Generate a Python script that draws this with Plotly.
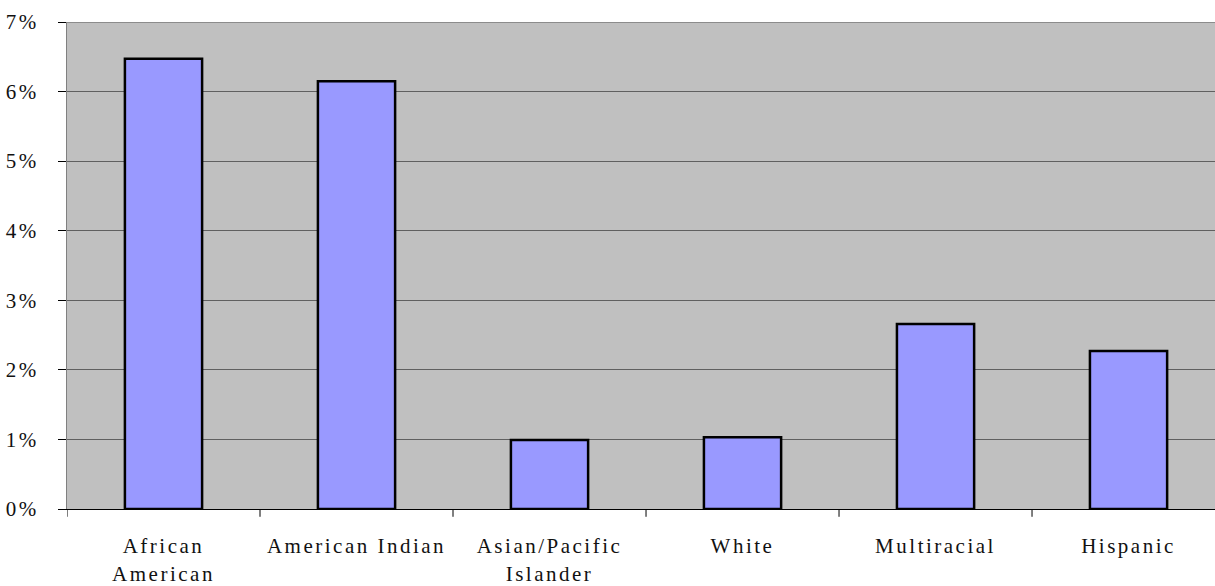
import plotly.graph_objects as go

categories = ["African<br>American", "American Indian", "Asian/Pacific<br>Islander", "White", "Multiracial", "Hispanic"]
values = [6.47, 6.15, 0.99, 1.03, 2.66, 2.27]
y_ticks = [0, 1, 2, 3, 4, 5, 6, 7]

fig = go.Figure()
fig.add_trace(go.Bar(
    x=list(range(len(categories))), y=values, width=0.40,
    marker=dict(color="#9999FF", line=dict(color="#000000", width=2.5)),
))

font = dict(family="Liberation Serif, Times New Roman, serif", size=21, color="#111111")

fig.update_layout(
    width=1215, height=586,
    margin=dict(l=67, r=0, t=22, b=77, pad=0),
    paper_bgcolor="#FFFFFF", plot_bgcolor="#C0C0C0",
    showlegend=False, font=font, bargap=0.6,
)
fig.update_xaxes(
    tickmode="array", tickvals=list(range(len(categories))), ticktext=categories,
    range=[-0.5, 5.448], showgrid=False, zeroline=False,
    showline=True, linecolor="#000000", linewidth=1,
    ticks="", tickfont=font, ticklabelstandoff=18,
)
# boundary ticks
for b in [k - 0.5 for k in range(len(categories) + 1)]:
    fig.add_shape(type="line", xref="x", yref="paper", x0=b, x1=b, y0=0, y1=-0.016,
                  line=dict(color="#000000", width=1))
fig.update_yaxes(
    range=[0, 7], tickvals=y_ticks, ticktext=[f"{v}%" for v in y_ticks],
    showgrid=True, gridcolor="#606060", gridwidth=1, zeroline=False,
    showline=True, linecolor="#808080", linewidth=1,
    ticks="outside", ticklen=8, tickcolor="#000000", tickfont=font,
    ticklabelstandoff=15,
)
fig.add_shape(type="line", xref="paper", yref="y", x0=0, x1=1, y0=7, y1=7,
              line=dict(color="#8c8c8c", width=2))

post = """
document.body.style.margin = '0';
document.querySelectorAll('.xtick text, .ytick text').forEach(function(t){ t.style.letterSpacing = '2.5px'; });
"""
fig.write_html("out.html", post_script=post, config={"displayModeBar": False})
